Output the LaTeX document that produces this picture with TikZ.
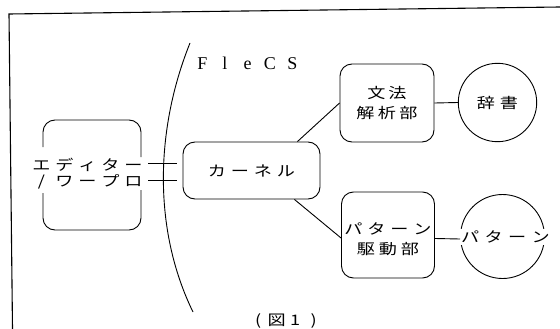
\documentclass[tikz,border=0pt]{standalone}
\usepackage{fontspec}
\setmainfont{Liberation Serif}
\newfontfamily\jp[FakeStretch=1.25]{Noto Sans CJK JP}
\makeatletter
\newcommand\spaceout[2]{\def\spaceout@w{#1}\spaceout@loop#2\@nil}
\def\spaceout@loop#1{\ifx\@nil#1\else\makebox[\spaceout@w][c]{#1}\expandafter\spaceout@loop\fi}
\makeatother
\begin{document}
\begin{tikzpicture}[x=1pt,y=-1pt,
  line/.style={line width=0.9pt, draw=black},
  box/.style={draw, line width=0.9pt, rounded corners=12pt, inner sep=0pt},
  jt/.style={font=\jp\fontsize{14.5}{19.5}\selectfont, inner sep=0pt, align=center},
  circ/.style={draw, circle, line width=0.9pt, inner sep=0pt}]
\useasboundingbox (0,0) rectangle (560,329);
\fill[white] (0,0) rectangle (560,329);

% frame
\draw[line width=1.1pt] (12.5,329) -- (9,14) -- (560,7);

% FleCS boundary
\draw[line] (190,43) .. controls (155,130) and (153,230) .. (193,312);
\node[font=\fontsize{18}{20}\selectfont, anchor=base, inner sep=0pt] (flecs) at (247.5,70) {\spaceout{22.5pt}{FleCS}};

% editor box (broken where the text is)
\draw[line, rounded corners=12pt] (43,147) -- (43,120) -- (141,120) -- (141,157);
\draw[line, rounded corners=12pt] (43,193) -- (43,230) -- (141,230) -- (141,190);
\node[jt] (ed1) at (87.5,165) {\spaceout{23pt}{エディター}};
\node[jt] (ed2) at (87.5,181.5) {\spaceout{23pt}{/ワープロ}};

% kernel
\node[box, jt, minimum width=137pt, minimum height=57pt] (kernel) at (251.5,170.5) {\spaceout{23pt}{カーネル}};

% grammar analyser
\node[box, jt, minimum width=94pt, minimum height=78pt] (gram) at (387,103) {\spaceout{21pt}{文法}\\\spaceout{21.5pt}{解析部}};
% dictionary
\node[circ, jt, minimum size=78.4pt] (dict) at (497.5,102.5) {\spaceout{23pt}{辞書}};

% pattern driver
\node[box, minimum width=93pt, minimum height=86pt] (pat) at (388,235) {};
\node[jt] (pattext) at ([yshift=-4pt]pat.center) {\spaceout{23pt}{パターン}\\\spaceout{22pt}{駆動部}};
% pattern circle
\node[circ, minimum size=84pt] (pcirc) at (502.5,236.5) {};
\node[jt, fill=white, inner ysep=1.5pt] (ptext) at (505.5,237) {\spaceout{23.5pt}{パターン}};

% connectors
\coordinate (e1) at (148,163.5);
\coordinate (k1) at (177,163.5);
\coordinate (e2) at (148,180.5);
\coordinate (k2) at (177,180.5);
\draw[line] (e1) -- (k1);
\draw[line] (e2) -- (k2);
\draw[line] ([xshift=-23pt]kernel.north east) -- (gram.west);
\draw[line] ([xshift=-26pt]kernel.south east) -- ([yshift=-3pt]pat.west);
\draw[line] (gram.east) -- (dict.west);
\draw[line] ([yshift=-3.5pt]pat.east) -- ([yshift=-2.5pt]pcirc.west);

% caption
\node[jt] (cap) at (286,321) {\spaceout{18.5pt}{(図1)}};
\end{tikzpicture}
\end{document}
